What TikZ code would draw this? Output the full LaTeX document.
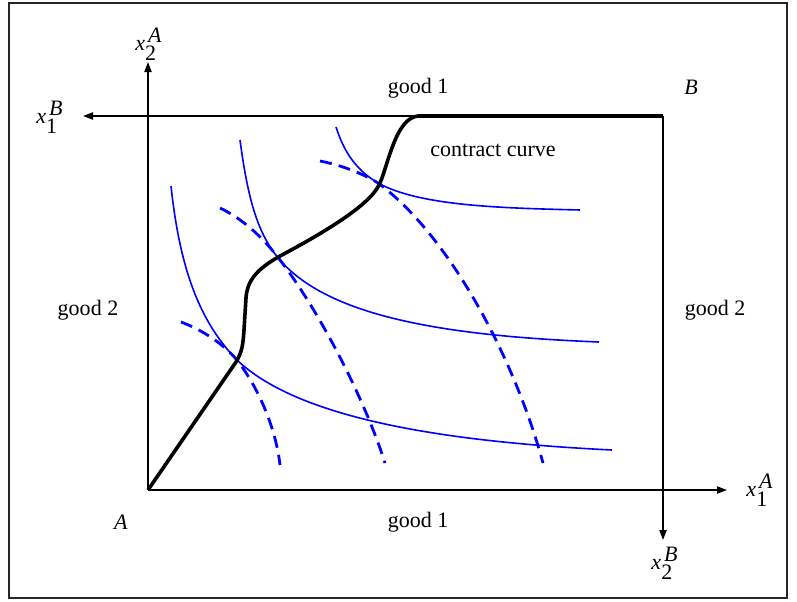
\documentclass[tikz,border=0pt]{standalone}
\usepackage{fontspec}
\setmainfont{Liberation Serif}
\usetikzlibrary{arrows.meta}
\newcommand{\xvar}[2]{$\textit{x}_{\textrm{#1}}^{\,\textit{#2}}$}
\begin{document}
\begin{tikzpicture}[x=0.5pt,y=-0.5pt,
  axis/.style={line width=0.8pt,-{Triangle[length=5pt,width=3.6pt]}},
  boxline/.style={line width=0.8pt},
  contract/.style={line width=1.8pt,line join=round},
  indA/.style={blue,line width=0.8pt},
  indB/.style={blue,line width=1.4pt,dash pattern=on 6pt off 3.6pt},
  lbl/.style={font=\fontsize{11}{13}\selectfont,inner sep=0pt}]
\useasboundingbox (0,0) rectangle (797,601);
\draw[line width=1pt,black!85] (9,3) rectangle (787,598);
% coordinates
\coordinate (A) at (148,490);
\coordinate (B) at (663,116);
\coordinate (Atop) at (148,62);
\coordinate (Aright) at (727,490);
\coordinate (Bleft) at (83,116);
\coordinate (Bdown) at (663,540);
% axes
\draw[axis] (A) -- (Atop);
\draw[axis] (A) -- (Aright);
\draw[axis] (B) -- (Bleft);
\draw[axis] (B) -- (Bdown);
% labels
\node[lbl] (x2A) at (149,44) {\xvar{2}{A}};
\node[lbl] (x1B) at (50,117) {\xvar{1}{B}};
\node[lbl] (x1A) at (760,490) {\xvar{1}{A}};
\node[lbl] (x2B) at (665,563) {\xvar{2}{B}};
\node[lbl] (lA) at (121,522) {\textit{A}};
\node[lbl] (lB) at (691,87) {\textit{B}};
\node[lbl] (g1t) at (418,88) {good 1};
\node[lbl] (g1b) at (418,522) {good 1};
\node[lbl] (g2l) at (88,310) {good 2};
\node[lbl] (g2r) at (715,310) {good 2};
\node[lbl] (cc) at (493,150) {contract curve};
% indifference curves of A
\draw[indA] (171,186) .. controls (180,270) and (200,322) .. (237,360)
  .. controls (300,420) and (450,442) .. (612,450);
\draw[indA] (240,140) .. controls (248,200) and (258,235) .. (280,260)
  .. controls (330,318) and (450,336) .. (599,342);
\draw[indA] (336,127) .. controls (345,155) and (358,171) .. (378,183)
  .. controls (420,206) and (500,208) .. (580,210);
% indifference curves of B
\draw[indB] (181,322) .. controls (205,331) and (224,345) .. (237,360)
  .. controls (260,390) and (276,430) .. (280,465);
\draw[indB] (220,208) .. controls (245,220) and (265,240) .. (280,260)
  .. controls (320,312) and (365,400) .. (385,463);
\draw[indB] (320,161) .. controls (340,165) and (360,172) .. (378,183)
  .. controls (450,236) and (515,360) .. (543,463);
% contract curve
\draw[contract] (A) -- (236,362) .. controls (242,352) and (243,345) .. (244,330)
  -- (246,298) .. controls (247,282) and (255,270) .. (280,256)
  .. controls (310,240) and (345,220) .. (365,202)
  .. controls (376,192) and (379,186) .. (382,178)
  .. controls (390,155) and (398,118) .. (418,116) -- (B);
\end{tikzpicture}
\end{document}
